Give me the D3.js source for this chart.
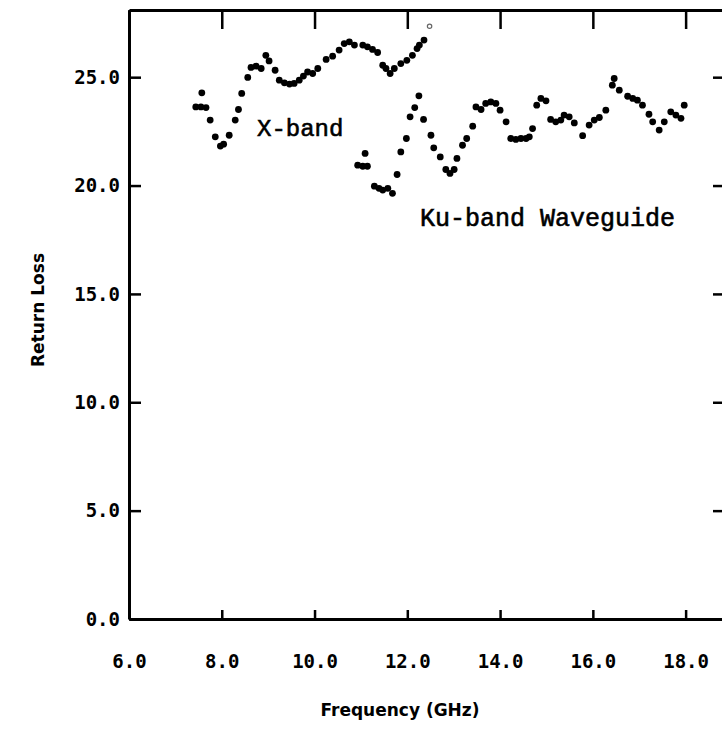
<!DOCTYPE html>
<html>
<head>
<meta charset="utf-8">
<script src="https://cdn.jsdelivr.net/npm/d3@7"></script>
<style>
  body { margin: 0; background: #fff; }
  .tick text { font-family: "DejaVu Sans Mono", monospace; font-weight: bold; }
</style>
</head>
<body>
<svg id="chart" width="722" height="731"></svg>
<script>
// X-band sweep (GHz, return loss)
var xbandFreq = [7.44, 7.55, 7.57, 7.66, 7.75, 7.86, 7.97, 8.04, 8.16, 8.29, 8.36, 8.43, 8.56, 8.63, 8.74, 8.85,
                 8.95, 9.02, 9.15, 9.24, 9.35, 9.46, 9.56, 9.67, 9.76, 9.85, 9.96, 10.07, 10.25, 10.39, 10.53,
                 10.64, 10.75, 10.86, 11.04, 11.14, 11.25, 11.36, 11.47, 11.54, 11.63, 11.72, 11.86, 11.99,
                 12.11, 12.21, 12.26, 12.36];
var xbandLoss = [23.63, 23.63, 24.28, 23.60, 23.02, 22.25, 21.82, 21.91, 22.32, 23.02, 23.51, 24.25, 24.99, 25.45, 25.51, 25.40,
                 26.01, 25.75, 25.32, 24.86, 24.74, 24.68, 24.71, 24.86, 25.05, 25.24, 25.17, 25.40, 25.82, 25.97, 26.25,
                 26.55, 26.63, 26.48, 26.48, 26.40, 26.28, 26.14, 25.55, 25.40, 25.17, 25.40, 25.63, 25.78,
                 26.01, 26.32, 26.48, 26.71];
// last X-band reading, drawn open
var xbandEnd = [12.48, 27.35];

// Ku-band waveguide sweep
var kuFreq = [10.93, 11.04, 11.09, 11.14, 11.29, 11.39, 11.47, 11.58, 11.68, 11.78, 11.86, 11.98, 12.06, 12.16, 12.25,
              12.35, 12.51, 12.57, 12.71, 12.83, 12.92, 13.01, 13.07, 13.19, 13.28, 13.41, 13.48, 13.59, 13.69,
              13.80, 13.91, 14.00, 14.13, 14.23, 14.34, 14.45, 14.56, 14.63, 14.70, 14.79, 14.88, 14.99, 15.09,
              15.20, 15.31, 15.38, 15.49, 15.60, 15.78, 15.92, 16.03, 16.14, 16.28, 16.42, 16.46, 16.57, 16.75,
              16.86, 16.96, 17.07, 17.21, 17.29, 17.43, 17.54, 17.68, 17.79, 17.90, 17.97];
var kuLoss = [20.94, 20.89, 21.48, 20.89, 19.97, 19.87, 19.79, 19.87, 19.64, 20.51, 21.55, 22.17, 23.17, 23.60, 24.14,
              23.05, 22.32, 21.74, 21.32, 20.74, 20.56, 20.74, 21.25, 21.86, 22.17, 22.74, 23.63, 23.51, 23.79,
              23.86, 23.79, 23.48, 22.94, 22.17, 22.13, 22.17, 22.17, 22.25, 22.63, 23.71, 24.02, 23.91, 23.05,
              22.94, 23.02, 23.25, 23.17, 22.89, 22.30, 22.79, 23.02, 23.14, 23.48, 24.63, 24.94, 24.40, 24.12,
              24.02, 23.94, 23.71, 23.29, 22.94, 22.56, 22.94, 23.40, 23.25, 23.10, 23.71];

var xTicks = [6, 8, 10, 12, 14, 16, 18];
var yTicks = [0, 5, 10, 15, 20, 25];

var svg = d3.select("#chart");

var x = d3.scaleLinear().domain([6, 19]).range([129, 732]);
var y = d3.scaleLinear().domain([0, 28.1]).range([619, 10]);

var fmt = d3.format(".1f");

// frame: top and right edges carry inward ticks without labels
svg.append("g")
    .attr("transform", "translate(0," + y(28.1) + ")")
    .call(d3.axisTop(x).tickValues(xTicks).tickSizeInner(-19).tickSizeOuter(0).tickFormat(""));
svg.append("g")
    .attr("transform", "translate(" + x(19) + ",0)")
    .call(d3.axisRight(y).tickValues(yTicks).tickSizeInner(-19).tickSizeOuter(0).tickFormat(""));

var xAxis = svg.append("g")
    .attr("transform", "translate(0," + y(0) + ")")
    .call(d3.axisBottom(x).tickValues(xTicks).tickSizeInner(-9).tickSizeOuter(0).tickPadding(36).tickFormat(fmt));

var yAxis = svg.append("g")
    .attr("transform", "translate(" + x(6) + ",0)")
    .call(d3.axisLeft(y).tickValues(yTicks).tickSizeInner(-12).tickSizeOuter(0).tickPadding(9).tickFormat(fmt));

svg.selectAll(".domain").attr("stroke", "#000").attr("stroke-width", 3);
svg.selectAll(".tick line").attr("stroke", "#000").attr("stroke-width", 2.5);
svg.selectAll(".tick text").attr("font-size", 19).attr("fill", "#000");

// data dots
svg.append("g").selectAll("circle")
    .data(d3.zip(xbandFreq, xbandLoss))
    .enter().append("circle")
    .attr("cx", function(d){ return x(d[0]); })
    .attr("cy", function(d){ return y(d[1]); })
    .attr("r", 3.4)
    .attr("fill", "#000");

svg.append("g").selectAll("circle")
    .data(d3.zip(kuFreq, kuLoss))
    .enter().append("circle")
    .attr("cx", function(d){ return x(d[0]); })
    .attr("cy", function(d){ return y(d[1]); })
    .attr("r", 3.4)
    .attr("fill", "#000");

svg.append("circle")
    .attr("cx", x(xbandEnd[0]))
    .attr("cy", y(xbandEnd[1]))
    .attr("r", 2.2)
    .attr("fill", "none")
    .attr("stroke", "#666")
    .attr("stroke-width", 1.2);

// curve labels
svg.append("text")
    .attr("x", 257).attr("y", 136)
    .attr("font-family", "Liberation Mono, monospace")
    .attr("font-size", 24)
    .attr("fill", "#000")
    .attr("stroke", "#000")
    .attr("stroke-width", 0.6)
    .text("X-band");

svg.append("text")
    .attr("x", 420).attr("y", 226)
    .attr("font-family", "Liberation Mono, monospace")
    .attr("font-size", 25)
    .attr("fill", "#000")
    .attr("stroke", "#000")
    .attr("stroke-width", 0.6)
    .text("Ku-band Waveguide");

// axis titles
svg.append("text")
    .attr("x", 400).attr("y", 716)
    .attr("text-anchor", "middle")
    .attr("font-family", "DejaVu Sans, sans-serif")
    .attr("font-weight", "bold")
    .attr("font-size", 17)
    .text("Frequency (GHz)");

svg.append("text")
    .attr("transform", "translate(44,310) rotate(-90)")
    .attr("text-anchor", "middle")
    .attr("font-family", "DejaVu Sans, sans-serif")
    .attr("font-weight", "bold")
    .attr("font-size", 17)
    .text("Return Loss");
</script>
</body>
</html>
